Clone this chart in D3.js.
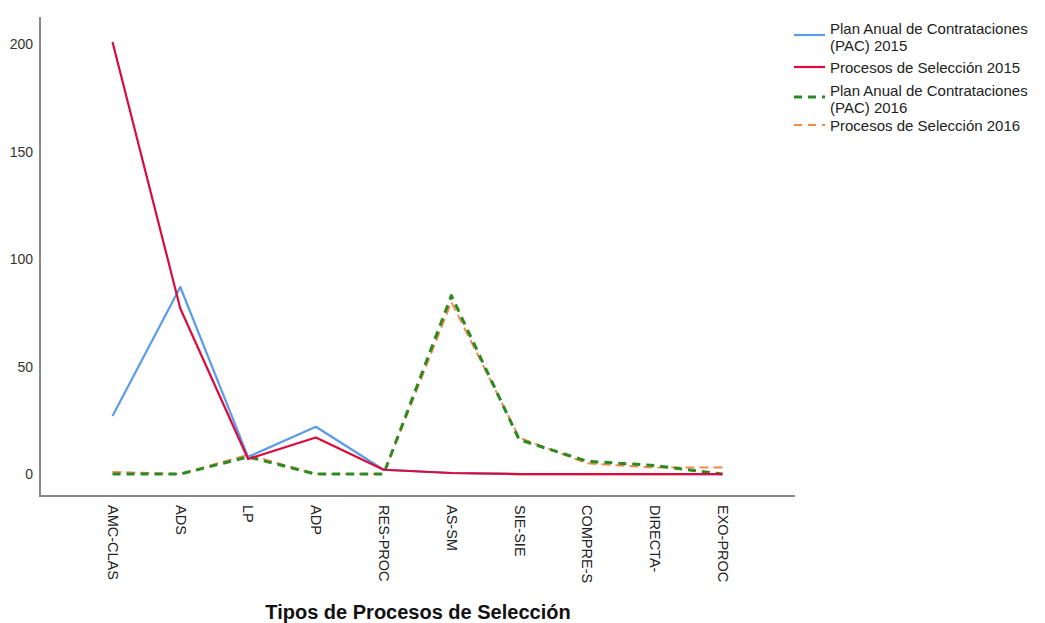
<!DOCTYPE html>
<html><head><meta charset="utf-8">
<script src="https://cdn.jsdelivr.net/npm/d3@7/dist/d3.min.js"></script>
<style>body{margin:0;background:#fff}svg{display:block}text{font-family:"Liberation Sans",Arial,sans-serif}</style>
</head><body><svg id="c" width="1045" height="623"></svg>
<script>
const categories = ["AMC-CLAS","ADS","LP","ADP","RES-PROC","AS-SM","SIE-SIE","COMPRE-S","DIRECTA-","EXO-PROC"];
const pac2015  = [27, 87, 8, 22, 2, 0.5, 0, 0, 0, 0];
const proc2015 = [201, 77, 7, 17, 2, 0.5, 0, 0, 0, 0];
const pac2016  = [0, 0, 8, 0, 0, 83, 16, 6, 4, 0];
const proc2016 = [1, 0, 9, 0, 0, 80, 17, 5, 3, 3];
const yTicks = [0, 50, 100, 150, 200];
const seriesNames = ["Plan Anual de Contrataciones\n(PAC) 2015","Procesos de Selección 2015","Plan Anual de Contrataciones\n(PAC) 2016","Procesos de Selección 2016"];

const svg = d3.select("#c");
const x = d3.scalePoint().domain(categories).range([40, 795]).padding(1.07);
const y = d3.scaleLinear().domain([-10.2, 212.6]).range([496, 17]);

const styles = [
  {data: pac2015, color: "#5B9BE8", w: 2.2, dash: null},
  {data: proc2015, color: "#DC0A3C", w: 2.2, dash: null},
  {data: pac2016, color: "#2B8A22", w: 3, dash: "8,6"},
  {data: proc2016, color: "#F5894A", w: 2, dash: "9,5"}
];
const order = [3, 2, 0, 1];
const line = d3.line().x((d,i)=>x(categories[i])).y(d=>y(d));
order.forEach(k=>{
  const s = styles[k];
  svg.append("path").attr("d", line(s.data)).attr("fill","none")
    .attr("stroke", s.color).attr("stroke-width", s.w)
    .attr("stroke-dasharray", s.dash).attr("stroke-linejoin","round");
});

// axes
const yAxis = d3.axisLeft(y).tickValues(yTicks).tickSize(0).tickPadding(7);
const gy = svg.append("g").attr("transform","translate(40,0)").call(yAxis);
gy.select(".domain").remove();
gy.selectAll("text").attr("font-size",14).attr("fill","#333");
svg.append("line").attr("x1",40).attr("x2",40).attr("y1",17).attr("y2",497).attr("stroke","#8a8a8a").attr("stroke-width",2);

const xAxis = d3.axisBottom(x).tickSize(0).tickPadding(0);
const gx = svg.append("g").attr("transform","translate(0,496)").call(xAxis);
gx.select(".domain").remove();
gx.selectAll("text").attr("font-size",14.5).attr("fill","#222")
  .attr("transform","translate(0,9) rotate(90)").attr("text-anchor","start")
  .attr("dy","0.35em").attr("x",0).attr("y",0);
svg.append("line").attr("x1",39).attr("x2",795).attr("y1",496).attr("y2",496).attr("stroke","#8a8a8a").attr("stroke-width",2);

svg.append("text").attr("x",418).attr("y",619).attr("text-anchor","middle")
  .attr("font-size",20).attr("font-weight","bold").attr("fill","#111")
  .text("Tipos de Procesos de Selección");

// legend
const legY = [35, 67, 97, 125];
styles.forEach((s,i)=>{
  const g = svg.append("g");
  g.append("line").attr("x1",794).attr("x2",825).attr("y1",legY[i]).attr("y2",legY[i])
    .attr("stroke",s.color).attr("stroke-width",s.w).attr("stroke-dasharray", s.dash ? "8,6" : null);
  const lines = seriesNames[i].split("\n");
  const y0 = lines.length > 1 ? legY[i] - 1 : legY[i] + 6;
  lines.forEach((ln,j)=>{
    g.append("text").attr("x",830).attr("y", y0 + j*16.5)
      .attr("font-size",15).attr("fill","#222").text(ln);
  });
});
</script></body></html>
